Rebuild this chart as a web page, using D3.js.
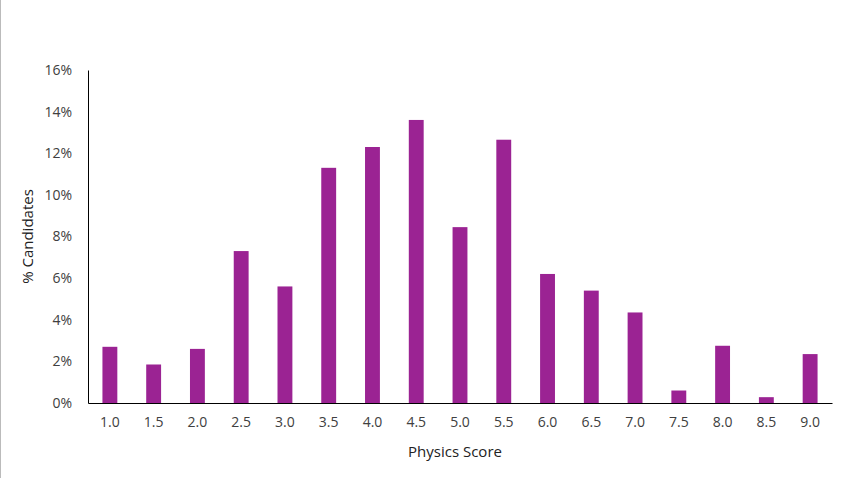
<!DOCTYPE html><html><head><meta charset="utf-8">
<script src="https://cdn.jsdelivr.net/npm/d3@7"></script>
<style>body{margin:0;background:#fff}svg{display:block;font-family:"Open Sans",sans-serif}</style></head><body>
<script>
const categories=["1.0","1.5","2.0","2.5","3.0","3.5","4.0","4.5","5.0","5.5","6.0","6.5","7.0","7.5","8.0","8.5","9.0"];
const values=[2.7,1.85,2.6,7.3,5.6,11.3,12.3,13.6,8.45,12.65,6.2,5.4,4.35,0.6,2.75,0.28,2.35];
const yTicks=[0,2,4,6,8,10,12,14,16];
const W=852,H=478,m={l:88,r:20,t:70,b:75};
const svg=d3.select("body").append("svg").attr("width",W).attr("height",H);
svg.append("line").attr("x1",0.5).attr("x2",0.5).attr("y1",0).attr("y2",H).attr("stroke","#bbb");
const x=d3.scaleBand().domain(categories).range([m.l,W-m.r]).paddingInner(0.66).paddingOuter(0.33);
const y=d3.scaleLinear().domain([0,16]).range([H-m.b,m.t]);
svg.selectAll("rect").data(values).join("rect").attr("x",(d,i)=>x(categories[i])).attr("width",x.bandwidth())
 .attr("y",d=>y(d)).attr("height",d=>y(0)-y(d)).attr("fill","#9B2393");
const ya=svg.append("g").attr("transform",`translate(${m.l},0)`).call(d3.axisLeft(y).tickValues(yTicks).tickFormat(d=>d+"%").tickSize(0).tickPadding(16));
const xa=svg.append("g").attr("transform",`translate(0,${y(0)})`).call(d3.axisBottom(x).tickSize(0).tickPadding(14));
[ya,xa].forEach(a=>{a.selectAll("text").attr("font-size",14).attr("fill","#404040").attr("font-family","Open Sans, sans-serif");a.select(".domain").attr("stroke","#000")});
svg.append("text").attr("x",(m.l+W-m.r)/2-5).attr("y",457).attr("text-anchor","middle").attr("font-size",15).attr("fill","#222").text("Physics Score");
svg.append("text").attr("transform",`translate(33,${(m.t+H-m.b)/2}) rotate(-90)`).attr("text-anchor","middle").attr("font-size",15).attr("fill","#222").text("% Candidates");
</script></body></html>
